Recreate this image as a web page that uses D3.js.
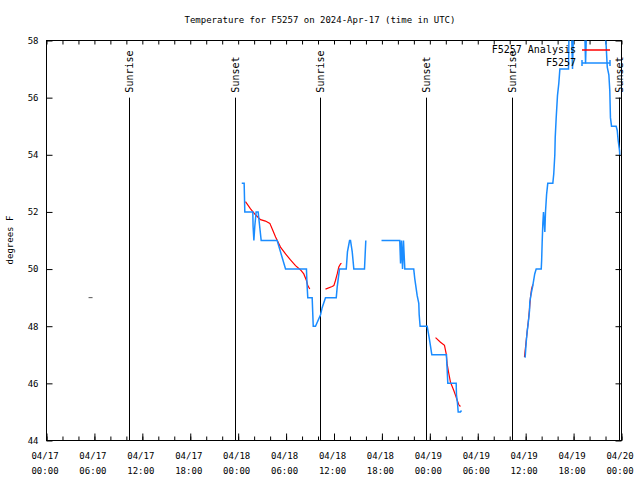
<!DOCTYPE html>
<html><head><meta charset="utf-8">
<script src="https://cdn.jsdelivr.net/npm/d3@7"></script>
<style>
body{margin:0;background:#fff}
svg{display:block}
text{font-family:"DejaVu Sans Mono","Liberation Mono",monospace;font-size:9px;fill:#000}
</style>
</head><body>
<svg id="chart" width="640" height="480"></svg>
<script>
// ---------- DATA ----------
const chartTitle = "Temperature for F5257 on 2024-Apr-17 (time in UTC)";
const yLabel = "degrees F";
const seriesNames = ["F5257 Analysis", "F5257"];

// Observations (F5257), null = gap
const obsTimes = [
 "2024-04-18 00:27","2024-04-18 00:45","2024-04-18 00:50","2024-04-18 01:50","2024-04-18 01:52",
 "2024-04-18 01:58","2024-04-18 02:05","2024-04-18 02:15","2024-04-18 02:30","2024-04-18 02:53",
 "2024-04-18 04:53","2024-04-18 05:56","2024-04-18 08:33","2024-04-18 08:37","2024-04-18 08:43",
 "2024-04-18 09:16","2024-04-18 09:24","2024-04-18 09:41","2024-04-18 10:19","2024-04-18 10:31",
 "2024-04-18 10:56","2024-04-18 12:17","2024-04-18 12:24","2024-04-18 12:41","2024-04-18 13:32",
 "2024-04-18 13:41","2024-04-18 13:57","2024-04-18 14:04","2024-04-18 14:17","2024-04-18 14:29",
 "2024-04-18 15:49","2024-04-18 15:59","2024-04-18 16:30",
 "2024-04-18 17:57","2024-04-18 20:14","2024-04-18 20:20","2024-04-18 20:27","2024-04-18 20:35",
 "2024-04-18 20:42","2024-04-18 20:52","2024-04-18 21:59","2024-04-18 22:07","2024-04-18 22:25",
 "2024-04-18 22:37","2024-04-18 22:40","2024-04-18 22:47","2024-04-18 23:40","2024-04-18 23:55",
 "2024-04-19 00:05","2024-04-19 00:15","2024-04-19 02:05","2024-04-19 02:07","2024-04-19 02:10",
 "2024-04-19 02:15","2024-04-19 03:18","2024-04-19 03:20","2024-04-19 03:28","2024-04-19 03:33",
 "2024-04-19 03:50","2024-04-19 03:58","2024-04-19 06:00",
 "2024-04-19 11:56","2024-04-19 12:04","2024-04-19 12:11","2024-04-19 12:19","2024-04-19 12:29",
 "2024-04-19 12:31","2024-04-19 12:41","2024-04-19 12:53","2024-04-19 13:08","2024-04-19 13:19",
 "2024-04-19 13:57","2024-04-19 14:00","2024-04-19 14:04","2024-04-19 14:09","2024-04-19 14:14",
 "2024-04-19 14:24","2024-04-19 14:29","2024-04-19 14:37","2024-04-19 14:46","2024-04-19 15:24",
 "2024-04-19 15:31","2024-04-19 15:39","2024-04-19 15:42","2024-04-19 15:49","2024-04-19 15:59",
 "2024-04-19 16:09","2024-04-19 16:17","2024-04-19 17:22","2024-04-19 17:26","2024-04-19 17:44",
 "2024-04-19 17:52","2024-04-19 18:00","2024-04-19 19:23","2024-04-19 19:30","2024-04-19 19:38",
 "2024-04-19 21:52","2024-04-19 22:05","2024-04-19 22:13","2024-04-19 22:25","2024-04-19 22:32",
 "2024-04-19 22:37","2024-04-19 22:45","2024-04-19 23:20","2024-04-19 23:28","2024-04-19 23:35",
 "2024-04-19 23:45","2024-04-19 23:47"
];
const obsTemps = [
 53,53,52,52,51.5,
 51,51.5,52,52,51,
 51,50,50,49.5,49,
 49,48,48,48.4,48.65,
 49,49,49.37,50,50,
 50.6,51,51,50.6,50,
 50,51,null,
 51,51,50.2,51,50,
 51,50,50,49.66,49.07,
 48.8,48.4,48,48,47.6,
 47.3,47,47,46.75,46.5,
 46,46,45.6,45.3,45,
 45,45.05,null,
 46.9,47.44,47.8,48.1,48.55,
 48.84,49.13,49.4,49.83,50,
 50,50.3,50.94,51.6,52,
 51.3,52,52.6,53,53,
 53.33,54,54.6,55.26,56.07,
 56.5,57,57,58.5,58.5,
 57,58.5,58.5,57.2,58.5,
 58.5,57.8,57.07,56.8,56.25,
 55.3,55,55,54.85,54.5,
 54.15,54
];

// Analysis (F5257 Analysis), null = gap
const anaTimes = [
 "2024-04-18 00:55","2024-04-18 01:33","2024-04-18 02:10","2024-04-18 02:48","2024-04-18 03:25",
 "2024-04-18 03:58","2024-04-18 04:16","2024-04-18 04:41","2024-04-18 05:18","2024-04-18 05:56",
 "2024-04-18 06:33","2024-04-18 07:11","2024-04-18 07:49","2024-04-18 08:13","2024-04-18 08:33",
 "2024-04-18 08:43","2024-04-18 08:58","2024-04-18 10:00",
 "2024-04-18 10:56","2024-04-18 11:46","2024-04-18 11:59","2024-04-18 12:11","2024-04-18 12:24",
 "2024-04-18 12:36","2024-04-18 12:49","2024-04-18 12:56","2024-04-18 18:00",
 "2024-04-19 00:43","2024-04-19 01:20","2024-04-19 01:50","2024-04-19 02:03","2024-04-19 02:10",
 "2024-04-19 02:23","2024-04-19 02:35","2024-04-19 02:48","2024-04-19 03:00","2024-04-19 03:13",
 "2024-04-19 03:26","2024-04-19 03:38","2024-04-19 03:50","2024-04-19 08:00",
 "2024-04-19 11:51","2024-04-19 12:11","2024-04-19 12:23","2024-04-19 12:36","2024-04-19 12:44",
 "2024-04-19 12:54"
];
const anaTemps = [
 52.36,52.11,51.9,51.73,51.68,
 51.6,51.4,51.12,50.77,50.53,
 50.32,50.12,49.97,49.83,49.6,
 49.42,49.3,null,
 49.3,49.39,49.42,49.6,49.83,
 50.07,50.18,50.2,null,
 47.6,47.44,47.33,47.03,46.68,
 46.33,46.04,45.89,45.75,45.58,
 45.4,45.25,45.19,null,
 46.92,47.8,48.3,49.0,49.3,
 49.46
];

// Isolated observation
const loneTimes = ["2024-04-17 05:31"];
const loneTemps = [49.0];

// Sunrise / sunset markers
const sunTimes  = ["2024-04-17 10:22","2024-04-17 23:38","2024-04-18 10:20","2024-04-18 23:35","2024-04-19 10:20","2024-04-19 23:47"];
const sunLabels = ["Sunrise","Sunset","Sunrise","Sunset","Sunrise","Sunset"];
const sunLineTop = 56;

// Axes
const xDomain = ["2024-04-17 00:00","2024-04-20 00:00"];
const xMajorTicks = ["2024-04-17 00:00","2024-04-17 06:00","2024-04-17 12:00","2024-04-17 18:00",
 "2024-04-18 00:00","2024-04-18 06:00","2024-04-18 12:00","2024-04-18 18:00",
 "2024-04-19 00:00","2024-04-19 06:00","2024-04-19 12:00","2024-04-19 18:00","2024-04-20 00:00"];
const yDomain = [44, 58];
const yTicks = [44,46,48,50,52,54,56,58];

// ---------- DRAW ----------
const parse = d3.utcParse("%Y-%m-%d %H:%M");
const svg = d3.select("#chart");
const L = 46.5, R = 621.5, T = 40.5, B = 440.5;

const x = d3.scaleUtc().domain(xDomain.map(parse)).range([L, R]);
const y = d3.scaleLinear().domain(yDomain).range([B, T]);

svg.append("defs").append("clipPath").attr("id","clip")
  .append("rect").attr("x",L).attr("y",T).attr("width",R-L).attr("height",B-T);

// title
svg.append("text").attr("x",320).attr("y",23).attr("text-anchor","middle").text(chartTitle);
// y label
svg.append("text").attr("transform","translate(13,240) rotate(-90)").attr("text-anchor","middle").text(yLabel);

// minor ticks every 2h (inward), bottom & top
const minorTicks = d3.utcHour.every(2).range(parse(xDomain[0]), d3.utcMinute.offset(parse(xDomain[1]),1));
function styleAxis(g){ g.select(".domain").remove(); g.selectAll("line").attr("stroke","#000"); }
svg.append("g").attr("transform",`translate(0,${B})`)
  .call(d3.axisBottom(x).tickValues(minorTicks).tickSize(-4).tickFormat("")).call(styleAxis);
svg.append("g").attr("transform",`translate(0,${T})`)
  .call(d3.axisTop(x).tickValues(minorTicks).tickSize(-4).tickFormat("")).call(styleAxis);

// major labels bottom (two lines)
const fmtD = d3.utcFormat("%m/%d"), fmtT = d3.utcFormat("%H:%M");
const gxl = svg.append("g").attr("transform",`translate(0,${B})`)
  .call(d3.axisBottom(x).tickValues(xMajorTicks.map(parse)).tickSize(-7).tickPadding(0).tickFormat(""))
  .call(styleAxis);
gxl.selectAll(".tick").append("text").attr("text-anchor","middle")
  .each(function(d){
    const t = d3.select(this);
    t.append("tspan").attr("x",-2).attr("y",18).text(fmtD(d));
    t.append("tspan").attr("x",-2).attr("y",33).text(fmtT(d));
  });

// y axes
const gy = svg.append("g").attr("transform",`translate(${L},0)`)
  .call(d3.axisLeft(y).tickValues(yTicks).tickSize(-6).tickPadding(8).tickFormat(d3.format("d")))
  .call(styleAxis);
gy.selectAll("text").attr("font-size","9px").attr("font-family",'"DejaVu Sans Mono",monospace').attr("fill","#000");
svg.append("g").attr("transform",`translate(${R},0)`)
  .call(d3.axisRight(y).tickValues(yTicks).tickSize(-6).tickFormat(""))
  .call(styleAxis);

// frame
svg.append("rect").attr("x",L).attr("y",T).attr("width",R-L).attr("height",B-T)
  .attr("fill","none").attr("stroke","#000").attr("stroke-width",1);

// sun lines
sunTimes.forEach((s,i)=>{
  const xx = Math.floor(x(parse(s)))+0.5;
  svg.append("line").attr("x1",xx).attr("x2",xx).attr("y1",y(sunLineTop)).attr("y2",B)
    .attr("stroke","#000").attr("stroke-width",1);
  svg.append("text").attr("transform",`translate(${xx+0.5},${y(sunLineTop)-5}) rotate(-90)`)
    .attr("text-anchor","start").attr("dominant-baseline","middle").style("font-size","10px").text(sunLabels[i]);
});

// data
const plot = svg.append("g").attr("clip-path","url(#clip)");
const line = d3.line().defined(d=>d[1]!==null).x(d=>x(d[0])).y(d=>y(d[1]));
const anaData = anaTimes.map((t,i)=>[parse(t),anaTemps[i]]);
const obsData = obsTimes.map((t,i)=>[parse(t),obsTemps[i]]);
plot.append("path").datum(anaData).attr("d",line).attr("fill","none").attr("stroke","#ff0000").attr("stroke-width",1.2);
plot.append("path").datum(obsData).attr("d",line).attr("fill","none").attr("stroke","#1a8cff").attr("stroke-width",1.5);
loneTimes.forEach((t,i)=>{
  const cx = x(parse(t)), cy = y(loneTemps[i]);
  plot.append("line").attr("x1",cx-2).attr("x2",cx+2).attr("y1",cy).attr("y2",cy).attr("stroke","#555").attr("stroke-width",1);
});

// legend
const legColors = ["#ff0000","#1a8cff"];
seriesNames.forEach((n,i)=>{
  const ly = 50 + i*13;
  svg.append("text").attr("x",576).attr("y",ly).attr("text-anchor","end").attr("dominant-baseline","middle").style("font-size","10px").text(n);
  svg.append("line").attr("x1",582).attr("x2",610).attr("y1",ly).attr("y2",ly).attr("stroke",legColors[i]).attr("stroke-width",1.5);
  if(i===1){
    [582,610].forEach(ex=> svg.append("line").attr("x1",ex).attr("x2",ex).attr("y1",ly-3).attr("y2",ly+3).attr("stroke",legColors[i]).attr("stroke-width",1.5));
  }
});
</script>
</body></html>
